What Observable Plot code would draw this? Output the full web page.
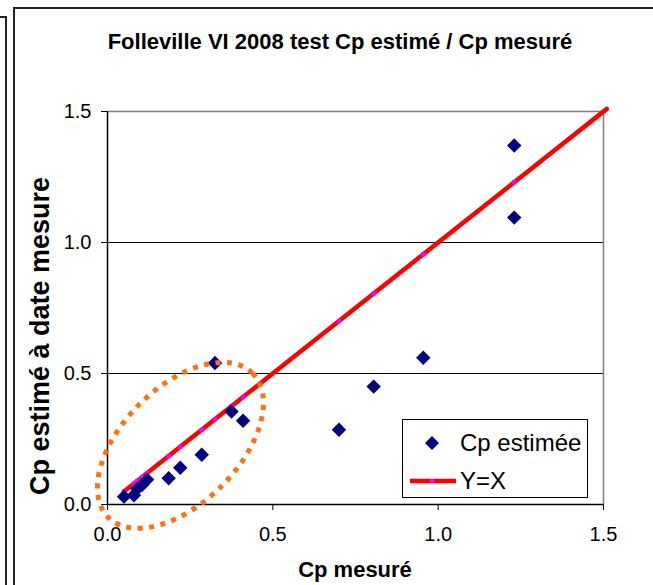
<!DOCTYPE html>
<html>
<head>
<meta charset="utf-8">
<script src="https://cdn.jsdelivr.net/npm/d3@7"></script>
<script src="https://cdn.jsdelivr.net/npm/@observablehq/plot@0.6"></script>
<style>
  html, body { margin: 0; padding: 0; background: #fff; overflow: hidden; }
  #wrap { position: relative; width: 653px; height: 585px; font-family: "Liberation Sans", Arial, sans-serif; color: #000; }
  #chart { position: absolute; left: 0; top: 0; }
  .abs { position: absolute; white-space: nowrap; }
  #title { left: 40px; width: 600px; top: 30px; text-align: center; font-weight: bold; font-size: 22px; line-height: 24px; }
  #ylab { left: 40px; top: 336px; transform: translate(-50%, -50%) rotate(-90deg); font-weight: bold; font-size: 27px; line-height: 28px; }
  #xlab { left: 355px; top: 570px; transform: translate(-50%, -50%); font-weight: bold; font-size: 22px; line-height: 24px; }
  #legend { left: 402px; top: 419px; width: 184px; height: 77px; border: 1px solid #000; background: #fff; }
  .lrow { position: absolute; left: 0; font-size: 24px; line-height: 26px; }
  .lrow svg { position: absolute; left: 0; }
  .lrow span { position: absolute; left: 57px; }
  #frameA { left: 0; top: 16px; width: 5px; height: 600px; border-top: 2px solid #222; border-right: 2px solid #222; }
  #frameB { left: 13px; top: 7px; width: 700px; height: 600px; border-top: 2px solid #222; border-left: 2px solid #222; }
</style>
</head>
<body>
<div id="wrap">
  <div id="frameA" class="abs"></div>
  <div id="frameB" class="abs"></div>
  <div id="chart"></div>
  <div id="title" class="abs">Folleville VI 2008 test Cp estimé / Cp mesuré</div>
  <div id="ylab" class="abs">Cp estimé à date mesure</div>
  <div id="xlab" class="abs">Cp mesuré</div>
  <div id="legend" class="abs">
    <div class="lrow" style="top:10px;width:184px;height:26px;">
      <svg width="56" height="26"><path d="M29,6 L36,13 L29,20 L22,13 Z" fill="#000080"/></svg>
      <span id="leg1"></span>
    </div>
    <div class="lrow" style="top:48px;width:184px;height:26px;">
      <svg width="56" height="26"><line x1="7" x2="53" y1="13" y2="13" stroke="#ff0000" stroke-width="4.5"/><rect x="27" y="11" width="4" height="4" fill="#ff00ff"/></svg>
      <span id="leg2"></span>
    </div>
  </div>
</div>
<script>
// Series: Cp estimée (measured x, estimated y)
const cpMesure = [0.05, 0.08, 0.09, 0.105, 0.12, 0.185, 0.22, 0.285, 0.325, 0.375, 0.41, 0.70, 0.805, 0.955, 1.23, 1.23];
const cpEstime = [0.03, 0.035, 0.06, 0.075, 0.095, 0.10, 0.14, 0.19, 0.54, 0.355, 0.32, 0.285, 0.45, 0.56, 1.37, 1.095];
// Series: Y=X
const identityX = [0.05, 0.08, 0.09, 0.105, 0.12, 0.185, 0.22, 0.285, 0.325, 0.375, 0.41, 0.70, 0.805, 0.955, 1.23, 1.51];
const axisTicks = [0, 0.5, 1.0, 1.5];
const gridValues = [0.5, 1.0];
const seriesNames = ["Cp estimée", "Y=X"];
// highlighted cluster (annotation), centre in data units
const clusterCentre = {x: 0.222, y: 0.224};

document.getElementById("leg1").textContent = seriesNames[0];
document.getElementById("leg2").textContent = seriesNames[1];

const points = cpMesure.map((x, i) => ({x, y: cpEstime[i]}));
const identity = identityX.map(x => ({x, y: x}));
const fmt = d3.format(".1f");

const ellipseMark = (index, scales) => {
  const cx = scales.x(clusterCentre.x), cy = scales.y(clusterCentre.y);
  return d3.create("svg:ellipse")
    .attr("cx", cx).attr("cy", cy).attr("rx", 102).attr("ry", 58)
    .attr("transform", `rotate(-45 ${cx} ${cy})`)
    .attr("fill", "none").attr("stroke", "#ff7010").attr("stroke-width", 5)
    .attr("stroke-dasharray", "5 6.5")
    .node();
};

const chart = Plot.plot({
  width: 653,
  height: 585,
  marginLeft: 107,
  marginRight: 50,
  marginTop: 111,
  marginBottom: 81,
  style: {fontFamily: "'Liberation Sans', Arial, sans-serif", fontSize: "20px", background: "transparent", overflow: "visible"},
  x: {domain: [0, 1.5], ticks: axisTicks, tickFormat: fmt, tickSize: 6, tickPadding: 16, label: null},
  y: {domain: [0, 1.5], ticks: axisTicks, tickFormat: fmt, tickSize: 6, tickPadding: 10, label: null},
  marks: [
    Plot.ruleY(gridValues, {stroke: "#000", strokeWidth: 1}),
    Plot.ruleY([1.5], {stroke: "#808080", strokeWidth: 1.5}),
    Plot.ruleX([1.5], {stroke: "#808080", strokeWidth: 1.5}),
    Plot.ruleX([0], {stroke: "#000", strokeWidth: 1.5}),
    Plot.ruleY([0], {stroke: "#000", strokeWidth: 1.5}),
    Plot.line(identity, {x: "x", y: "y", stroke: "#ff0000", strokeWidth: 4.5}),
    Plot.dot(identity.slice(0, -1), {x: "x", y: "y", symbol: "square", r: 2.4, fill: "#ff00ff", stroke: "none"}),
    Plot.dot(points, {x: "x", y: "y", symbol: "diamond2", r: 6.5, fill: "#000080", stroke: "none"}),
    ellipseMark
  ]
});
document.getElementById("chart").appendChild(chart);
</script>
</body>
</html>
